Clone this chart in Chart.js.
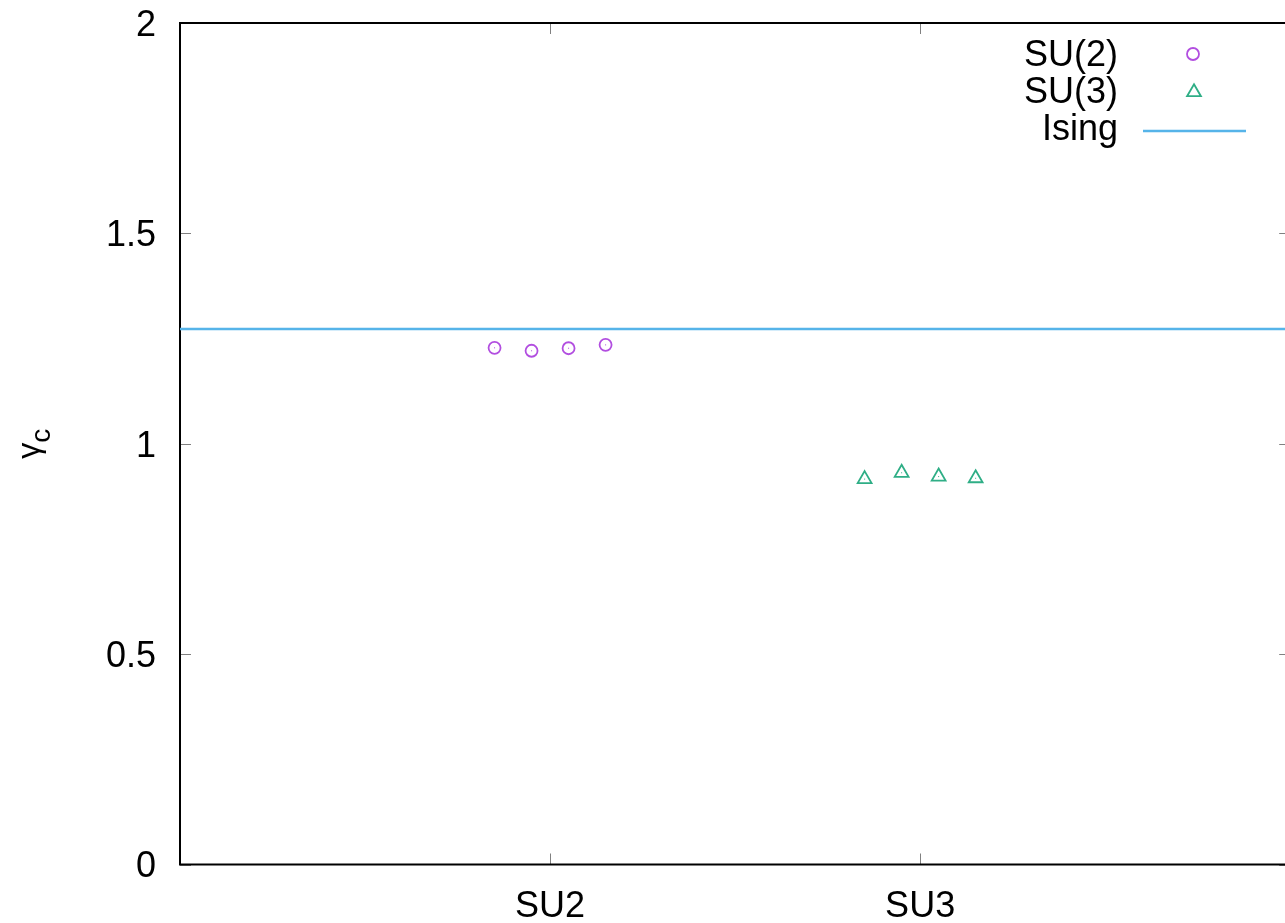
<!DOCTYPE html>
<html>
<head>
<meta charset="utf-8">
<script src="https://cdn.jsdelivr.net/npm/chart.js@4"></script>
<style>
  html, body { margin: 0; padding: 0; background: #fff; overflow: hidden; }
  canvas { display: block; }
</style>
</head>
<body>
<canvas id="gammaChart" width="1300" height="923"></canvas>
<script>
// values
const su2X = [0.85, 0.95, 1.05, 1.15];
const su2Y = [1.228, 1.221, 1.227, 1.235];
const su3X = [1.85, 1.95, 2.05, 2.15];
const su3Y = [0.916, 0.931, 0.922, 0.918];
const isingX = [0, 3];
const isingY = [1.273, 1.273];
const xTickValues = [1, 2];
const xTickLabels = ['SU2', 'SU3'];
const yTickValues = [0, 0.5, 1, 1.5, 2];

const FONT = '"Liberation Sans", Arial, Helvetica, sans-serif';
const toPoints = (xs, ys) => xs.map((x, i) => ({ x: x, y: ys[i] }));

// frame plus inward ticks on all four sides, gnuplot style
const framePlugin = {
    id: 'frame',
    beforeDatasetsDraw(chart) {
        const { ctx, chartArea: a, scales } = chart;
        ctx.save();
        ctx.strokeStyle = '#808080';
        ctx.lineWidth = 1;
        ctx.beginPath();
        yTickValues.forEach(v => {
            const y = Math.round(scales.y.getPixelForValue(v)) + 0.5;
            ctx.moveTo(a.left, y); ctx.lineTo(a.left + 11, y);
            ctx.moveTo(a.right, y); ctx.lineTo(a.right - 11, y);
        });
        xTickValues.forEach(v => {
            const x = Math.round(scales.x.getPixelForValue(v)) + 0.5;
            ctx.moveTo(x, a.bottom); ctx.lineTo(x, a.bottom - 11);
            ctx.moveTo(x, a.top); ctx.lineTo(x, a.top + 11);
        });
        ctx.stroke();
        ctx.strokeStyle = '#000';
        ctx.lineWidth = 2;
        ctx.strokeRect(a.left, a.top, a.right - a.left, a.bottom - a.top);

        // y axis title: gamma with subscript c, rotated
        ctx.fillStyle = '#000';
        ctx.translate(35, (a.top + a.bottom) / 2);
        ctx.rotate(-Math.PI / 2);
        ctx.textAlign = 'left';
        ctx.textBaseline = 'alphabetic';
        ctx.font = '32px ' + FONT;
        ctx.fillText('γ', -15, 4);
        ctx.font = '28px ' + FONT;
        ctx.fillText('c', 1, 15);
        ctx.restore();
    },
    afterDatasetsDraw(chart) {
        // tiny centre dot that gnuplot puts inside each point
        const { ctx } = chart;
        ctx.save();
        chart.data.datasets.forEach((ds, i) => {
            if (ds.showLine) return;
            ctx.fillStyle = ds.borderColor;
            chart.getDatasetMeta(i).data.forEach(p => ctx.fillRect(p.x - 0.5, p.y - 0.5, 1, 1));
        });
        ctx.restore();
    }
};

// key in the top right corner: text right aligned, sample to its right
const keyPlugin = {
    id: 'key',
    afterDraw(chart) {
        const { ctx } = chart;
        const textRight = 1118, firstRow = 55, rowH = 37.2;
        ctx.save();
        ctx.font = '36px ' + FONT;
        ctx.textAlign = 'right';
        ctx.textBaseline = 'middle';
        chart.data.datasets.forEach((ds, i) => {
            const y = firstRow + i * rowH;
            ctx.fillStyle = '#000';
            ctx.fillText(ds.label, textRight, y + 1);
            ctx.strokeStyle = ds.borderColor;
            ctx.lineWidth = ds.borderWidth;
            ctx.beginPath();
            if (ds.showLine) {
                ctx.moveTo(1143, y + 1.5); ctx.lineTo(1246, y + 1.5);
            } else if (ds.pointStyle === 'triangle') {
                const r = ds.pointRadius, cx = 1194;
                for (let k = 0; k < 3; k++) {
                    const ang = k * 2 * Math.PI / 3;
                    const px = cx + Math.sin(ang) * r, py = y - Math.cos(ang) * r;
                    k === 0 ? ctx.moveTo(px, py) : ctx.lineTo(px, py);
                }
                ctx.closePath();
            } else {
                ctx.arc(1193, y - 1, ds.pointRadius, 0, Math.PI * 2);
            }
            ctx.stroke();
        });
        ctx.restore();
    }
};

new Chart(document.getElementById('gammaChart'), {
    type: 'scatter',
    data: {
        datasets: [{
            label: 'SU(2)',
            data: toPoints(su2X, su2Y),
            pointStyle: 'circle',
            pointRadius: 6,
            borderColor: '#b24ee0',
            backgroundColor: 'rgba(0,0,0,0)',
            borderWidth: 1.8
        }, {
            label: 'SU(3)',
            data: toPoints(su3X, su3Y),
            pointStyle: 'triangle',
            pointRadius: 8,
            borderColor: '#2fae86',
            backgroundColor: 'rgba(0,0,0,0)',
            borderWidth: 1.8
        }, {
            label: 'Ising',
            data: toPoints(isingX, isingY),
            showLine: true,
            pointRadius: 0,
            borderColor: '#56b4e9',
            borderWidth: 2.5
        }]
    },
    options: {
        responsive: false,
        animation: false,
        layout: { padding: { top: 23, right: 8.5, left: 0, bottom: 0 } },
        plugins: { legend: { display: false }, tooltip: { enabled: false } },
        scales: {
            x: {
                type: 'linear',
                min: 0,
                max: 3,
                grid: { display: false, drawTicks: false },
                border: { display: false },
                afterBuildTicks: scale => { scale.ticks = xTickValues.map(v => ({ value: v })); },
                afterFit: scale => { scale.height = 58.5; scale.paddingLeft = 0; scale.paddingRight = 0; },
                ticks: {
                    padding: 21,
                    color: '#000',
                    font: { family: FONT, size: 36 },
                    callback: v => xTickLabels[xTickValues.indexOf(v)]
                }
            },
            y: {
                min: 0,
                max: 2,
                grid: { display: false, drawTicks: false },
                border: { display: false },
                afterBuildTicks: scale => { scale.ticks = yTickValues.map(v => ({ value: v })); },
                afterFit: scale => { scale.width = 180; scale.paddingTop = 0; scale.paddingBottom = 0; },
                ticks: {
                    padding: 24,
                    labelOffset: 3,
                    color: '#000',
                    font: { family: FONT, size: 36 },
                    callback: v => String(v)
                }
            }
        }
    },
    plugins: [framePlugin, keyPlugin]
});
</script>
</body>
</html>
